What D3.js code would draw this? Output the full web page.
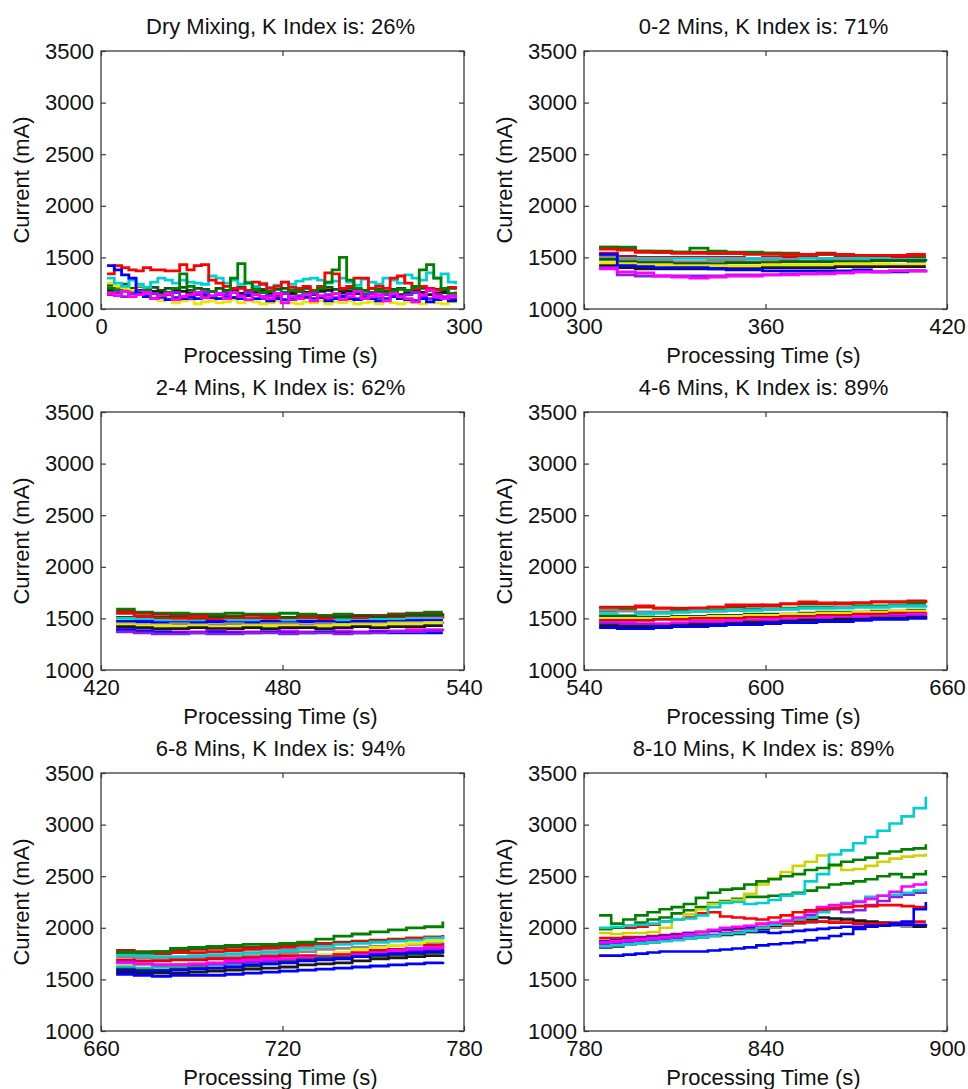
<!DOCTYPE html>
<html>
<head>
<meta charset="utf-8">
<script src="https://cdn.jsdelivr.net/npm/d3@7"></script>
<style>
body { margin: 0; background: #fff; }
text { font-family: "Liberation Sans", Arial, sans-serif; }
</style>
</head>
<body>
<div id="chart"></div>
<script>
var width = 968,
    height = 1089,
    plotW = 363,
    plotH = 258,
    colLeft = [101, 584],
    rowTop = [51, 412, 773];

// ---- data -------------------------------------------------------------
var panelTitles = ["Dry Mixing, K Index is: 26%", "0-2 Mins, K Index is: 71%",
  "2-4 Mins, K Index is: 62%", "4-6 Mins, K Index is: 89%",
  "6-8 Mins, K Index is: 94%", "8-10 Mins, K Index is: 89%"];
var xDomains = [[0, 300], [300, 420], [420, 540], [540, 660], [660, 780], [780, 900]];
var xTicks = [[0, 150, 300], [300, 360, 420], [420, 480, 540], [540, 600, 660], [660, 720, 780], [780, 840, 900]];
var yTicks = [1000, 1500, 2000, 2500, 3000, 3500];

var dryTime = [5,11,17,23,29,35,41,47,53,59,65,71,77,83,89,95,101,107,113,119,125,131,137,143,149,
  155,161,167,173,179,185,191,197,203,209,215,221,227,233,239,245,251,257,263,269,275,281,287,293];
var dryLines = [
  [1230,1210,1240,1200,1220,1190,1210,1180,1200,1190,1210,1180,1200,1190,1170,1200,1180,1190,1210,1180,1200,1190,1170,1190,1200,1180,1190,1200,1180,1190,1210,1190,1180,1200,1190,1180,1200,1190,1170,1190,1200,1180,1190,1200,1180,1190,1180,1200,1190],
  [1180,1170,1200,1160,1180,1150,1170,1160,1140,1180,1170,1150,1160,1140,1170,1150,1160,1180,1150,1140,1160,1170,1150,1140,1160,1150,1170,1160,1140,1170,1180,1150,1160,1170,1150,1140,1160,1170,1150,1160,1140,1150,1170,1160,1140,1150,1160,1140,1150],
  [1250,1220,1200,1180,1230,1150,1100,1080,1100,1060,1080,1090,1050,1070,1080,1060,1070,1090,1060,1080,1070,1050,1060,1080,1070,1060,1050,1070,1060,1080,1050,1070,1060,1080,1050,1060,1070,1050,1080,1060,1050,1070,1060,1050,1070,1060,1050,1070,1060],
  [1300,1250,1220,1280,1240,1210,1260,1300,1280,1250,1280,1260,1250,1240,1320,1300,1250,1280,1240,1260,1220,1250,1210,1230,1260,1240,1270,1290,1300,1280,1250,1270,1300,1260,1230,1290,1260,1240,1300,1280,1250,1330,1300,1280,1350,1300,1340,1260,1240],
  [1340,1420,1400,1380,1370,1400,1380,1380,1370,1370,1430,1380,1420,1430,1280,1250,1220,1200,1200,1180,1260,1240,1200,1220,1260,1210,1200,1220,1180,1220,1350,1340,1200,1220,1300,1300,1200,1220,1200,1300,1320,1250,1200,1220,1200,1180,1200,1210,1190],
  [1200,1180,1170,1150,1160,1180,1150,1140,1160,1200,1340,1220,1160,1150,1170,1140,1160,1300,1440,1250,1180,1160,1170,1150,1160,1180,1170,1150,1160,1200,1260,1380,1500,1280,1200,1170,1160,1180,1150,1170,1190,1180,1220,1380,1430,1300,1200,1150,1170],
  [1140,1160,1120,1150,1170,1130,1150,1110,1140,1160,1120,1100,1140,1160,1120,1140,1150,1110,1130,1160,1140,1100,1130,1120,1150,1090,1130,1110,1150,1120,1140,1110,1130,1150,1100,1130,1150,1110,1140,1120,1100,1140,1160,1120,1100,1140,1120,1100,1120],
  [1420,1380,1330,1300,1150,1120,1100,1120,1090,1110,1100,1120,1100,1130,1110,1100,1120,1110,1100,1130,1100,1120,1080,1100,1090,1110,1100,1120,1100,1110,1080,1100,1120,1100,1090,1110,1100,1080,1100,1120,1100,1090,1080,1100,1070,1090,1100,1080,1100],
  [1150,1130,1170,1120,1140,1160,1100,1130,1150,1090,1120,1140,1160,1110,1130,1150,1100,1160,1120,1090,1140,1120,1100,1150,1060,1120,1100,1140,1080,1130,1110,1150,1090,1120,1170,1100,1120,1140,1080,1150,1120,1100,1070,1140,1180,1120,1100,1130,1110]
];
var dryColors = ["darkgreen", "black", "yellow", "cyan", "red", "green", "purple", "blue", "magenta"];

var min02Time = [305,311,317,323,329,335,341,347,353,359,365,371,377,383,389,395,401,407,413];
var min02Lines = [
  [1600,1590,1560,1550,1550,1550,1540,1540,1540,1540,1530,1530,1540,1530,1520,1520,1520,1510,1510],
  [1600,1600,1560,1560,1550,1590,1560,1550,1550,1540,1540,1530,1530,1530,1520,1520,1510,1500,1500],
  [1580,1570,1550,1550,1540,1540,1540,1540,1530,1530,1530,1530,1530,1530,1520,1520,1520,1530,1530],
  [1540,1510,1500,1500,1500,1500,1500,1500,1490,1500,1500,1500,1490,1500,1490,1500,1500,1490,1490],
  [1510,1490,1490,1490,1490,1490,1490,1490,1490,1490,1480,1490,1490,1490,1490,1490,1480,1480,1480],
  [1500,1480,1470,1470,1460,1460,1470,1470,1460,1470,1470,1460,1460,1470,1460,1470,1470,1460,1460],
  [1480,1460,1450,1450,1440,1440,1440,1450,1450,1450,1460,1460,1460,1460,1460,1470,1470,1470,1460],
  [1450,1440,1430,1430,1420,1420,1420,1420,1420,1430,1430,1430,1430,1440,1440,1440,1430,1430,1430],
  [1420,1400,1390,1390,1390,1390,1390,1390,1390,1400,1400,1400,1400,1410,1410,1410,1410,1410,1410],
  [1530,1420,1410,1400,1400,1400,1390,1380,1380,1370,1370,1370,1370,1370,1380,1360,1360,1370,1380],
  [1400,1330,1320,1320,1320,1320,1320,1330,1330,1330,1340,1340,1350,1350,1360,1360,1370,1370,1380],
  [1390,1360,1350,1320,1310,1300,1310,1320,1320,1330,1330,1340,1340,1350,1360,1360,1370,1370,1380]
];
var min02Colors = ["brown", "green", "red", "red2", "cyan", "gray", "darkgreen", "yellow", "black", "blue", "purple", "magenta"];

var min24Time = [425,431,437,443,449,455,461,467,473,479,485,491,497,503,509,515,521,527,533];
var min24Lines = [
  [1590,1560,1550,1550,1540,1540,1550,1540,1540,1550,1540,1530,1540,1530,1520,1540,1550,1560,1560],
  [1570,1550,1540,1530,1530,1520,1520,1530,1520,1510,1520,1520,1520,1530,1530,1540,1540,1540,1550],
  [1510,1520,1510,1510,1500,1510,1510,1500,1500,1510,1500,1500,1510,1520,1510,1520,1530,1530,1540],
  [1550,1520,1500,1500,1510,1490,1500,1500,1510,1490,1500,1490,1480,1500,1490,1500,1510,1510,1520],
  [1500,1490,1480,1470,1470,1470,1480,1480,1470,1480,1480,1470,1480,1480,1490,1490,1500,1500,1500],
  [1470,1470,1460,1460,1460,1470,1460,1460,1470,1460,1470,1470,1460,1470,1470,1470,1480,1480,1480],
  [1450,1440,1440,1450,1440,1440,1450,1440,1450,1450,1440,1450,1440,1450,1450,1460,1460,1460,1470],
  [1440,1430,1430,1420,1430,1420,1420,1430,1430,1430,1420,1430,1440,1440,1440,1450,1450,1460,1460],
  [1420,1410,1400,1400,1410,1400,1400,1410,1400,1410,1410,1400,1410,1420,1410,1420,1420,1430,1430],
  [1390,1380,1370,1370,1370,1380,1370,1370,1370,1380,1370,1370,1380,1370,1380,1380,1390,1390,1400],
  [1390,1380,1370,1360,1360,1370,1360,1360,1370,1360,1360,1370,1360,1360,1370,1360,1360,1360,1360],
  [1370,1360,1350,1350,1360,1350,1350,1360,1360,1350,1360,1360,1350,1360,1360,1370,1370,1380,1380]
];
var min24Colors = ["green", "brown", "darkgreen", "red", "cyan", "blue", "gray", "yellow", "black", "magenta", "blue", "purple"];

var min46Time = [545,551,557,563,569,575,581,587,593,599,605,611,617,623,629,635,641,647,653];
var min46Lines = [
  [1610,1610,1610,1600,1600,1600,1610,1610,1620,1630,1640,1640,1640,1650,1650,1660,1660,1670,1680],
  [1600,1600,1620,1600,1590,1600,1610,1630,1630,1620,1640,1660,1650,1640,1650,1660,1660,1660,1670],
  [1570,1580,1560,1560,1570,1570,1580,1580,1590,1590,1600,1610,1610,1610,1620,1620,1630,1640,1640],
  [1580,1570,1560,1560,1560,1570,1570,1580,1580,1590,1590,1600,1600,1610,1610,1610,1620,1620,1630],
  [1540,1530,1540,1550,1560,1570,1570,1580,1580,1590,1590,1600,1600,1600,1610,1610,1620,1620,1630],
  [1520,1520,1510,1510,1520,1520,1530,1530,1540,1540,1540,1550,1560,1560,1560,1570,1570,1580,1580],
  [1500,1500,1500,1500,1510,1510,1520,1520,1530,1530,1540,1540,1550,1550,1560,1560,1570,1570,1580],
  [1480,1480,1480,1490,1490,1500,1500,1500,1510,1510,1520,1520,1530,1530,1540,1540,1550,1550,1560],
  [1460,1460,1450,1450,1460,1470,1470,1480,1480,1490,1490,1500,1510,1510,1520,1520,1530,1540,1550],
  [1450,1440,1440,1430,1440,1450,1450,1460,1470,1470,1480,1490,1490,1500,1500,1510,1520,1520,1530],
  [1430,1420,1420,1420,1430,1440,1440,1450,1460,1460,1470,1480,1480,1490,1490,1500,1500,1510,1520],
  [1410,1400,1400,1410,1420,1420,1430,1440,1440,1450,1460,1460,1470,1470,1480,1490,1490,1500,1510]
];
var min46Colors = ["brown", "red", "green", "gray", "cyan", "darkgreen", "yellow", "red2", "magenta", "purple", "black", "blue"];

var min68Time = [665,671,677,683,689,695,701,707,713,719,725,731,737,743,749,755,761,767,773];
var min68Lines = [
  [1780,1770,1770,1780,1790,1800,1810,1810,1820,1830,1840,1850,1860,1870,1880,1890,1900,1910,1930],
  [1760,1750,1750,1760,1760,1770,1780,1790,1800,1810,1830,1840,1850,1860,1870,1880,1900,1910,1920],
  [1720,1710,1700,1700,1710,1720,1720,1730,1740,1760,1770,1790,1800,1810,1820,1830,1840,1850,1860],
  [1740,1730,1720,1720,1730,1740,1750,1760,1770,1780,1800,1820,1840,1850,1860,1870,1880,1900,1920],
  [1630,1640,1640,1650,1650,1660,1660,1670,1680,1700,1720,1740,1760,1790,1810,1830,1850,1870,1880],
  [1620,1610,1620,1620,1630,1640,1650,1660,1670,1680,1700,1720,1730,1750,1760,1780,1790,1810,1830],
  [1690,1680,1680,1690,1690,1700,1700,1710,1720,1730,1730,1720,1740,1760,1780,1790,1800,1830,1850],
  [1670,1650,1640,1640,1640,1650,1660,1670,1680,1690,1700,1720,1710,1730,1740,1760,1780,1790,1800],
  [1660,1650,1640,1640,1650,1660,1680,1690,1700,1700,1710,1700,1720,1740,1760,1780,1800,1810,1830],
  [1600,1590,1590,1600,1610,1610,1620,1630,1650,1670,1690,1700,1710,1720,1730,1740,1750,1760,1770],
  [1590,1580,1580,1590,1600,1610,1620,1640,1650,1660,1680,1690,1700,1720,1740,1750,1760,1770,1790],
  [1570,1560,1560,1560,1570,1580,1590,1600,1610,1620,1640,1650,1660,1680,1700,1710,1720,1730,1740],
  [1550,1540,1530,1540,1540,1540,1550,1560,1570,1580,1590,1600,1610,1620,1630,1640,1650,1660,1670],
  [1760,1760,1770,1800,1810,1820,1830,1840,1840,1850,1860,1890,1920,1940,1960,1980,2000,2010,2060]
];
var min68Colors = ["brown", "red", "gray", "cyan", "yellow", "cyan", "red2", "purple", "magenta", "darkgreen", "blue", "black", "blue", "green"];

var min810Time = [785,789,793,797,801,805,809,813,817,821,825,829,833,837,841,845,849,853,857,861,865,869,873,877,881,885,889,893];
var min810Lines = [
  [1850,1860,1870,1880,1890,1900,1910,1920,1930,1930,1940,1950,1960,1980,2000,2020,2040,2050,2060,2070,2090,2060,2040,2030,2020,2010,2010,2010],
  [1810,1820,1840,1850,1860,1880,1890,1900,1910,1920,1930,1940,1960,1990,2020,2040,2060,2080,2100,2090,2080,2070,2060,2050,2040,2030,2010,2000],
  [1900,1900,1910,1910,1920,1930,1940,1950,1960,1970,1980,1990,2000,2010,2030,2040,2050,2060,2060,2050,2050,2040,2040,2040,2050,2050,2060,2060],
  [1870,1880,1890,1900,1910,1920,1930,1950,1960,1970,1990,2000,2010,1960,1950,1960,1970,1980,1990,2000,2010,2010,2020,2020,2030,2030,2030,2040],
  [1840,1850,1860,1870,1880,1890,1900,1910,1920,1930,1950,1960,1980,2000,2030,2060,2090,2120,2160,2180,2150,2170,2220,2260,2300,2320,2340,2360],
  [1820,1830,1840,1850,1860,1870,1880,1900,1910,1920,1940,1950,1970,2000,2030,2060,2080,2100,2150,2200,2240,2260,2300,2310,2320,2340,2360,2380],
  [1860,1870,1880,1890,1900,1910,1920,1940,1960,1980,2000,2010,2020,2040,2050,2070,2100,2150,2200,2220,2230,2250,2280,2310,2350,2400,2420,2450],
  [1990,2000,2000,2010,2030,2060,2080,2100,2140,2150,2110,2100,2090,2080,2100,2120,2150,2170,2180,2190,2200,2210,2210,2220,2220,2210,2200,2180],
  [1730,1730,1740,1750,1760,1770,1770,1770,1770,1780,1790,1800,1810,1830,1840,1850,1860,1880,1900,1920,1940,1990,2010,2020,2040,2060,2180,2250],
  [1990,2000,2020,2050,2080,2100,2140,2170,2200,2240,2260,2280,2300,2300,2310,2320,2340,2360,2390,2420,2430,2450,2470,2500,2520,2490,2520,2560],
  [1950,1940,1950,1950,1960,2000,2080,2130,2180,2230,2250,2270,2330,2420,2480,2540,2600,2640,2700,2600,2560,2570,2600,2640,2670,2690,2700,2720],
  [2000,2010,2020,2030,2040,2060,2080,2090,2120,2200,2240,2250,2230,2240,2270,2310,2330,2450,2520,2710,2750,2820,2880,2940,3010,3080,3160,3270],
  [2120,2040,2080,2120,2150,2180,2200,2230,2290,2340,2370,2380,2420,2450,2470,2500,2520,2560,2580,2610,2640,2660,2680,2720,2740,2760,2770,2810]
];
var min810Colors = ["gray", "black", "red", "blue", "purple", "cyan", "magenta", "red", "blue", "green", "olive", "cyan", "green"];

// ---- styles -----------------------------------------------------------
var palette = {
  blue: "#0000ff", green: "#008000", red: "#ff0000", red2: "#e00010", cyan: "#00cfcf",
  magenta: "#ff00ff", yellow: "#e8e800", olive: "#d2d200", black: "#1a1a1a",
  purple: "#8a1ee6", darkgreen: "#0b5a12", brown: "#7a3410", gray: "#8a8a8a"
};

var panels = [
  { time: dryTime, lines: dryLines, colors: dryColors },
  { time: min02Time, lines: min02Lines, colors: min02Colors },
  { time: min24Time, lines: min24Lines, colors: min24Colors },
  { time: min46Time, lines: min46Lines, colors: min46Colors },
  { time: min68Time, lines: min68Lines, colors: min68Colors },
  { time: min810Time, lines: min810Lines, colors: min810Colors }
];

var svg = d3.select("#chart").append("svg")
    .attr("width", width)
    .attr("height", height);

panels.forEach(function (p, i) {
  var left = colLeft[i % 2],
      top = rowTop[Math.floor(i / 2)];

  var g = svg.append("g")
      .attr("transform", "translate(" + left + "," + top + ")");

  var x = d3.scaleLinear().domain(xDomains[i]).range([0, plotW]),
      y = d3.scaleLinear().domain([1000, 3500]).range([plotH, 0]);

  var line = d3.line()
      .curve(d3.curveStepAfter)
      .x(function (d) { return x(d[0]); })
      .y(function (d) { return y(d[1]); });

  g.selectAll("path.trace")
    .data(p.lines)
    .enter()
    .append("path")
    .attr("class", "trace")
    .attr("fill", "none")
    .attr("stroke", function (d, k) { return palette[p.colors[k]]; })
    .attr("stroke-width", i == 5 ? 2.6 : 2.8)
    .attr("stroke-linejoin", "miter")
    .attr("d", function (vals) {
      return line(vals.map(function (v, k) { return [p.time[k], v]; }));
    });

  // box
  g.append("rect")
    .attr("width", plotW)
    .attr("height", plotH)
    .attr("fill", "none")
    .attr("stroke", "#3a3a3a")
    .attr("stroke-width", 1.3);

  var fmt = d3.format("d");

  var axB = g.append("g")
    .attr("transform", "translate(0," + plotH + ")")
    .call(d3.axisBottom(x).tickValues(xTicks[i]).tickSizeInner(-5).tickSizeOuter(0).tickPadding(9).tickFormat(fmt));
  var axL = g.append("g")
    .call(d3.axisLeft(y).tickValues(yTicks).tickSizeInner(-5).tickSizeOuter(0).tickPadding(7).tickFormat(fmt));
  var axT = g.append("g")
    .call(d3.axisTop(x).tickValues(xTicks[i]).tickSizeInner(-5).tickSizeOuter(0).tickFormat(""));
  var axR = g.append("g")
    .attr("transform", "translate(" + plotW + ",0)")
    .call(d3.axisRight(y).tickValues(yTicks).tickSizeInner(-5).tickSizeOuter(0).tickFormat(""));

  [axB, axL, axT, axR].forEach(function (a) {
    a.select(".domain").remove();
    a.selectAll(".tick line").attr("stroke", "#3a3a3a").attr("stroke-width", 1.2);
    a.selectAll(".tick text")
      .attr("fill", "#111")
      .style("font-size", "22px")
      .style("font-family", "'Liberation Sans', Arial, sans-serif");
  });

  g.append("text")
    .attr("x", plotW / 2 - 2)
    .attr("y", -17)
    .attr("text-anchor", "middle")
    .attr("fill", "#111")
    .style("font-size", "22px")
    .text(panelTitles[i]);

  g.append("text")
    .attr("x", plotW / 2 - 2)
    .attr("y", plotH + 54)
    .attr("text-anchor", "middle")
    .attr("fill", "#111")
    .style("font-size", "22px")
    .text("Processing Time (s)");

  g.append("text")
    .attr("transform", "translate(-72," + (plotH / 2) + ") rotate(-90)")
    .attr("text-anchor", "middle")
    .attr("fill", "#111")
    .style("font-size", "22px")
    .text("Current (mA)");
});
</script>
</body>
</html>
